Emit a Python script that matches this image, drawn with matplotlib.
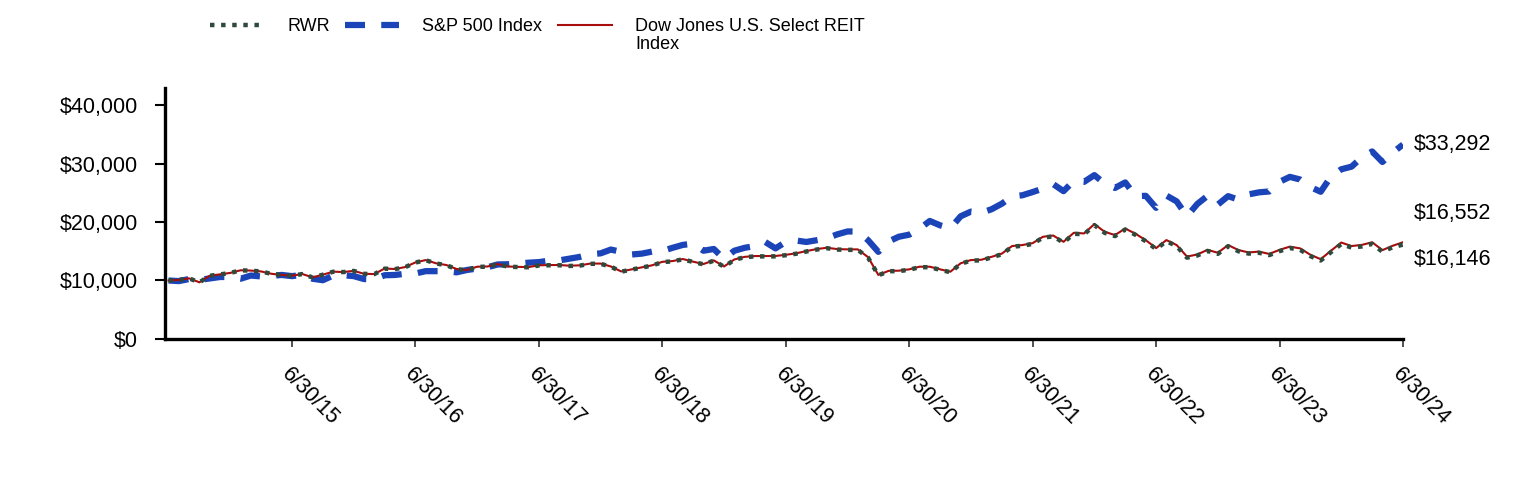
import matplotlib
matplotlib.use("Agg")
import matplotlib.pyplot as plt

plt.rcParams['font.family'] = ['Liberation Sans', 'DejaVu Sans']

# monthly values, 6/30/14 .. 6/30/24 (hypothetical $10,000 investment)
months = list(range(121))

rwr = [10000, 10090, 10360, 9680, 10810, 11040, 11290, 11740, 11690, 11540,
       11140, 10940, 10820, 11100, 10530, 10990, 11500, 11440, 11640, 11140,
       11090, 12030, 11950, 12280, 13080, 13470, 12920, 12620, 11940, 11770,
       12330, 12370, 12790, 12370, 12300, 12270, 12570, 12610, 12610, 12490,
       12560, 12860, 12860, 12360, 11510, 11860, 12210, 12560, 13150, 13280,
       13630, 13170, 12770, 13400, 12350, 13540, 13990, 14130, 14130, 14140,
       14330, 14580, 14970, 15300, 15530, 15300, 15250, 15250, 13920, 10890,
       11590, 11610, 11840, 12280, 12280, 11830, 11420, 12860, 13410, 13450,
       13950, 14490, 15780, 15950, 16270, 17350, 17560, 16490, 18010, 17900,
       19480, 18170, 17610, 18730, 17820, 16720, 15380, 16740, 15890, 13910,
       14280, 15060, 14570, 15860, 15010, 14610, 14750, 14350, 15030, 15560,
       15260, 14170, 13430, 14860, 16240, 15640, 15830, 16270, 14940, 15700,
       16146]

sp500 = [10000, 9900, 10250, 10100, 10350, 10600, 10600, 10300, 10850, 10700,
         10800, 10950, 10750, 10950, 10300, 10050, 10850, 10900, 10750, 10250,
         10200, 10900, 10950, 11150, 11200, 11600, 11600, 11600, 11400, 11800,
         12050, 12270, 12750, 12780, 12900, 13050, 13150, 13400, 13450, 13750,
         14050, 14500, 14650, 15300, 14900, 14450, 14600, 14950, 15050, 15600,
         16100, 16300, 15100, 15400, 13700, 15100, 15600, 15900, 16600, 15500,
         16600, 16850, 16600, 16900, 17250, 17900, 18400, 18400, 16900, 14900,
         16700, 17500, 17850, 18850, 20200, 19450, 18950, 21000, 21800, 21600,
         22200, 23150, 24400, 24600, 25150, 25750, 26500, 25300, 27050, 26900,
         28050, 26600, 25850, 26800, 24450, 24500, 22450, 24550, 23550, 21000,
         23100, 24500, 23000, 24450, 23850, 24750, 25100, 25250, 26900, 27750,
         27300, 26000, 25200, 27800, 29050, 29500, 31100, 32100, 30300, 31900,
         33292]

reit = [10000, 10100, 10370, 9690, 10820, 11050, 11300, 11750, 11700, 11550,
        11150, 10950, 10830, 11110, 10540, 11000, 11510, 11450, 11650, 11150,
        11100, 12050, 11970, 12300, 13100, 13500, 12950, 12650, 11970, 11800,
        12360, 12400, 12820, 12400, 12330, 12300, 12600, 12650, 12650, 12530,
        12600, 12900, 12900, 12400, 11550, 11900, 12250, 12600, 13200, 13330,
        13680, 13220, 12820, 13450, 12400, 13600, 14050, 14190, 14190, 14200,
        14400, 14650, 15040, 15380, 15610, 15380, 15330, 15330, 14000, 10950,
        11650, 11680, 11910, 12360, 12360, 11910, 11500, 12950, 13500, 13550,
        14050, 14600, 15900, 16070, 16400, 17490, 17700, 16630, 18170, 18060,
        19660, 18340, 17780, 18900, 18000, 16900, 15550, 16920, 16070, 14100,
        14450, 15250, 14750, 16070, 15210, 14800, 14950, 14550, 15250, 15800,
        15500, 14400, 13650, 15100, 16500, 15900, 16100, 16550, 15200, 15950,
        16552]

year_ticks = [12, 24, 36, 48, 60, 72, 84, 96, 108, 120]
year_labels = ['6/30/15', '6/30/16', '6/30/17', '6/30/18', '6/30/19',
               '6/30/20', '6/30/21', '6/30/22', '6/30/23', '6/30/24']
y_ticks = [0, 10000, 20000, 30000, 40000]
y_labels = ['$0', '$10,000', '$20,000', '$30,000', '$40,000']

c_rwr = '#2d4a3c'
c_sp = '#1b44b8'
c_reit = '#a80c0c'

fig = plt.figure(figsize=(15.24, 4.8), dpi=100)
ax = fig.add_axes([0.1083, 0.294, 0.8123, 0.523])

ax.plot(months, sp500, color=c_sp, lw=4.5, linestyle=(0, (3.2, 2.6)),
        label='S&P 500 Index', zorder=2)
ax.plot(months, reit, color=c_reit, lw=1.5,
        label='Dow Jones U.S. Select REIT', zorder=3)
ax.plot(months, rwr, color=c_rwr, lw=3.2, linestyle=(0, (1, 1.5)),
        label='RWR', zorder=4)

ax.set_xlim(-0.34, 120)
ax.set_ylim(0, 43000)

ax.set_xticks(year_ticks)
ax.set_xticklabels(year_labels, rotation=-45, ha='left', va='top',
                   rotation_mode='anchor', fontsize=15.5)
ax.set_yticks(y_ticks)
ax.set_yticklabels(y_labels, fontsize=15.5)
ax.tick_params(axis='x', length=6, width=1.2, pad=12, color='#333333')
ax.tick_params(axis='y', length=7, width=1.5, pad=12.5)

for s in ['top', 'right']:
    ax.spines[s].set_visible(False)
for s in ['left', 'bottom']:
    ax.spines[s].set_linewidth(2.4)

# end value labels
ax.annotate('$33,292', (months[-1], sp500[-1]), xytext=(8, 0),
            textcoords='offset points', va='center', ha='left', fontsize=15.5)
ax.annotate('$16,552', (months[-1], reit[-1]), xytext=(8, 21),
            textcoords='offset points', va='center', ha='left', fontsize=15.5)
ax.annotate('$16,146', (months[-1], rwr[-1]), xytext=(8, -11),
            textcoords='offset points', va='center', ha='left', fontsize=15.5)

h, l = ax.get_legend_handles_labels()
order = [2, 0, 1]
fig.legend([h[i] for i in order], [l[i] for i in order], loc='upper left',
           bbox_to_anchor=(0.1378, 0.962), ncol=3, frameon=False, fontsize=13,
           handlelength=3.0, handletextpad=1.28, columnspacing=0.84,
           borderaxespad=0, borderpad=0)
fig.text(0.4167, 0.908, 'Index', fontsize=13, va='center', ha='left')

fig.savefig('out.png', dpi=100)
